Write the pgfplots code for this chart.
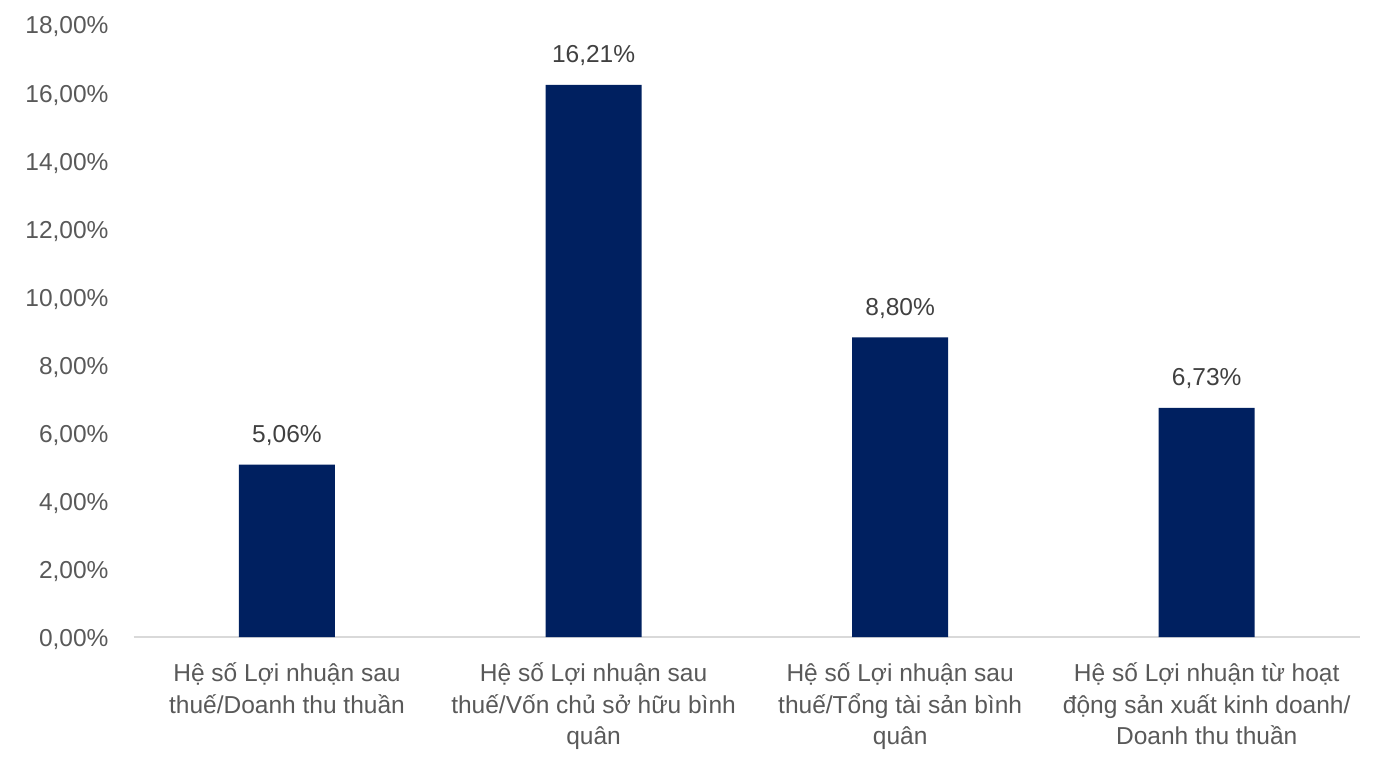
\documentclass[border=0pt]{standalone}
\usepackage{fontspec}
\setmainfont{Liberation Sans}
\usepackage{pgfplots}
\pgfplotsset{compat=1.18}
\definecolor{barblue}{HTML}{002060}
\definecolor{ticktext}{HTML}{595959}
\definecolor{labeltext}{HTML}{404040}
\definecolor{axisgray}{HTML}{D9D9D9}
\pgfkeys{/pgf/number format/assume math mode=true}
\begin{document}
\begin{tikzpicture}
\useasboundingbox (-66.85bp,-60bp) rectangle (626.15bp,318.5bp);
\begin{axis}[
  at={(0,0)}, anchor=south west,
  scale only axis, width=613.15bp, height=306.5bp,
  xmin=-0.5, xmax=3.5, ymin=0, ymax=18,
  axis line style={draw=none},
  major tick length=0pt,
  ytick={0,2,...,18},
  yticklabel={\pgfmathprintnumber[fixed,fixed zerofill,precision=2,use comma]{\tick}\%},
  yticklabel style={font=\fontsize{12.3}{14}\selectfont, text=ticktext, inner sep=0pt, anchor=east, xshift=-12.4bp, yshift=-1.5bp},
  xtick={0,1,2,3},
  xticklabels={{Hệ số Lợi nhuận sau\\thuế/Doanh thu thuần},
               {Hệ số Lợi nhuận sau\\thuế/Vốn chủ sở hữu bình\\quân},
               {Hệ số Lợi nhuận sau\\thuế/Tổng tài sản bình\\quân},
               {Hệ số Lợi nhuận từ hoạt\\động sản xuất kinh doanh/\\Doanh thu thuần}},
  xticklabel style={font=\fontsize{12.3}{16}\selectfont, text=ticktext, align=center, inner sep=0pt, anchor=north, yshift=-12.5bp},
  clip=false,
]
\draw[draw=axisgray, line width=1bp] (axis cs:-0.5,0) -- (axis cs:3.5,0);
\addplot[ybar, bar width=48bp, fill=barblue, draw=none,
  nodes near coords={\pgfmathprintnumber[fixed,fixed zerofill,precision=2,use comma]{\pgfplotspointmeta}\%},
  every node near coord/.append style={font=\fontsize{12.3}{14}\selectfont, text=labeltext, anchor=base, inner sep=0pt, yshift=11bp}]
  coordinates {(0,5.06) (1,16.21) (2,8.80) (3,6.73)};
\end{axis}
\end{tikzpicture}
\end{document}
